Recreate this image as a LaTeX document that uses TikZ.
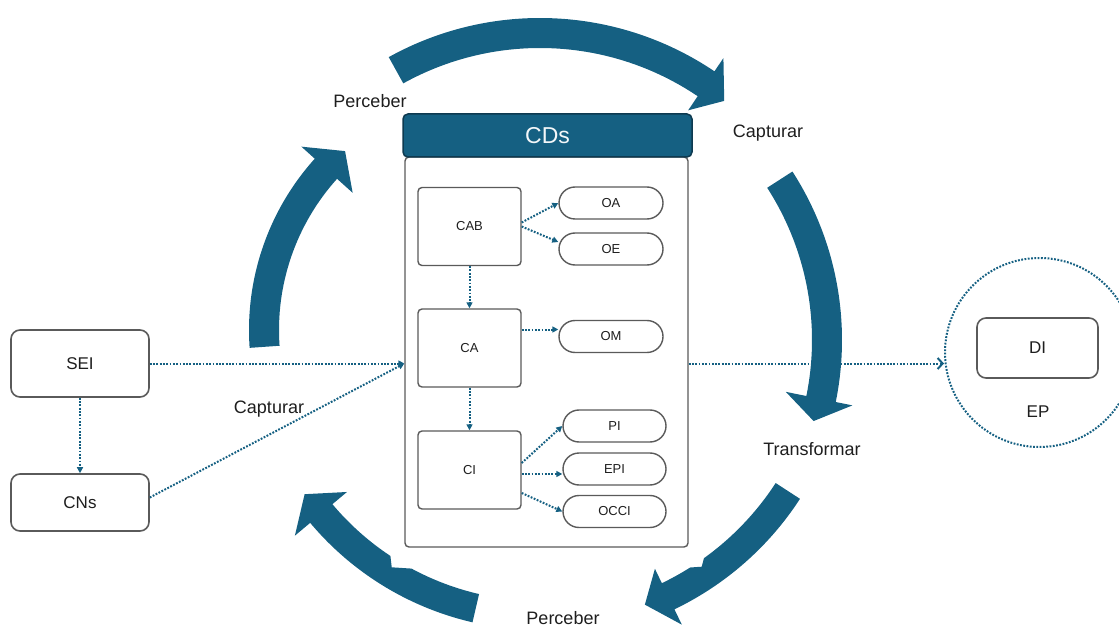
\documentclass[tikz,border=0pt]{standalone}
\usepackage{fontspec}
\setmainfont{Liberation Sans}
\usetikzlibrary{arrows.meta}
\definecolor{teal1}{HTML}{156082}
\definecolor{hdrline}{HTML}{0E3A50}
\definecolor{boxline}{HTML}{5A5A5A}
\definecolor{txt}{HTML}{1E1E1E}

\begin{document}
\begin{tikzpicture}[x=1pt,y=-1pt,
  bigarrow/.style={fill=teal1},
  link/.style={draw=teal1, line width=2pt, dash pattern=on 1.8pt off 1.5pt,
    -{Triangle[length=6pt,width=6pt]}},
  openlink/.style={draw=teal1, line width=2pt, dash pattern=on 1.8pt off 1.5pt,
    -{Straight Barb[length=5pt,width=11pt]}},
  outerbox/.style={draw=boxline, line width=1.6pt, rounded corners=9pt, fill=white,
    font=\fontsize{17}{20}\selectfont, text=txt, inner sep=0pt,
    minimum width=138pt},
  stepbox/.style={draw=boxline, line width=1.4pt, rounded corners=4pt, fill=white,
    font=\fontsize{13}{15}\selectfont, text=txt, minimum width=103pt,
    minimum height=78pt, inner sep=0pt},
  pillbox/.style={draw=boxline, line width=1.4pt, rounded corners=16pt, fill=white,
    font=\fontsize{13}{15}\selectfont, text=txt, minimum width=104pt,
    minimum height=32pt, inner sep=0pt},
  lbltext/.style={font=\fontsize{18}{21}\selectfont, text=txt, inner sep=0pt}
]
\useasboundingbox (0,0) rectangle (1119,628);
\clip (0,0) rectangle (1119,628);

% container with its heading
\node[draw=boxline, line width=1.4pt, rounded corners=4pt, minimum width=283pt,
  minimum height=390pt, inner sep=0pt, fill=white] (body) at (546.5,352) {};
\node[fill=teal1, draw=hdrline, line width=1.5pt, rounded corners=5pt,
  minimum width=289pt, minimum height=43pt, inner sep=0pt, text=white!95!teal1,
  font=\fontsize{23}{27}\selectfont] (cds) at (547.5,135.5) {CDs};

% inner blocks
\node[stepbox] (cab) at (469.5,226.5) {CAB};
\node[stepbox] (ca)  at (469.5,348)   {CA};
\node[stepbox] (ci)  at (469.5,470)   {CI};
\node[pillbox] (oa)   at (611,203)     {OA};
\node[pillbox] (oe)   at (611,249)     {OE};
\node[pillbox] (om)   at (611,336.5)   {OM};
\node[pillbox, minimum width=103pt] (pi)   at (614.5,426)   {PI};
\node[pillbox, minimum width=103pt] (epi)  at (614.5,469)   {EPI};
\node[pillbox, minimum width=103pt] (occi) at (614.5,511.5) {OCCI};

% sources on the left
\node[outerbox, minimum height=67pt] (sei) at (80,363.5) {SEI};
\node[outerbox, minimum height=57pt] (cns) at (80,502.5) {CNs};

% target on the right
\node[circle, draw=teal1, line width=2pt, dash pattern=on 1.8pt off 1.5pt,
  minimum size=189pt, inner sep=0pt] (ep) at (1039.5,352.5) {};
\node[outerbox, minimum width=121pt, minimum height=60pt] (di) at (1037.5,348) {DI};
\node[lbltext, font=\fontsize{17}{20}\selectfont] (eplbl) at (1038,412) {EP};

% connectors
\draw[link] (sei.east) -- (sei.east -| body.west);
\draw[link] (sei.south) -- (cns.north);
\draw[link] ([yshift=5pt]cns.east) -- (sei.east -| body.west);
\draw[openlink] (sei.east -| body.east) -- (sei.east -| ep.west);

\draw[link] ([yshift=4pt]cab.east) -- (oa.west);
\draw[link] (cab.east) -- ([yshift=7pt]oe.west);
\draw[link] (cab.south) -- (ca.north);
\coordinate (omin) at ([yshift=7pt]om.west);
\draw[link] (ca.east |- omin) -- (omin);
\draw[link] (ca.south) -- (ci.north);
\draw[link] ([yshift=7pt]ci.east) -- (pi.west);
\draw[link] ([yshift=-4pt]ci.east) -- ([yshift=-5pt]epi.west);
\draw[link] ([yshift=-23pt]ci.east) -- (occi.west);

% cycle of curved arrows
\begin{scope}[shift={(540,330)}]
  % top
  \fill[bigarrow] (-119:312) arc[start angle=-119, end angle=-56, radius=312]
    -- (-56:328) -- (-51.2:294) -- (-56:265) -- (-56:282)
    arc[start angle=-56, end angle=-119, radius=282] -- cycle;
  % lower right
  \fill[bigarrow] (33:310) arc[start angle=33, end angle=64.3, radius=310]
    -- (64.3:327) -- (69.1:294) -- (64.3:265) -- (64.3:281)
    arc[start angle=64.3, end angle=57.7, radius=281]
    -- (161.7,236.7) -- (54.3:281)
    arc[start angle=54.3, end angle=33, radius=281] -- cycle;
  % lower left
  \fill[bigarrow] (103:300) arc[start angle=103, end angle=140, radius=300]
    -- (140:320) -- (145.1:287) -- (140:252) -- (140:271)
    arc[start angle=140, end angle=123.5, radius=271]
    -- (-148.3,237.3) -- (118.3:271)
    arc[start angle=118.3, end angle=103, radius=271] -- cycle;
\end{scope}
\begin{scope}[shift={(531,340)}]
  % right
  \fill[bigarrow] (-32.8:311) arc[start angle=-32.8, end angle=11.5, radius=311]
    -- (11.5:328) -- (16:294) -- (11.5:260) -- (11.5:281)
    arc[start angle=11.5, end angle=-32.8, radius=281] -- cycle;
\end{scope}
\begin{scope}[shift={(505,330)}]
  % left
  \fill[bigarrow] (176:256) arc[start angle=176, end angle=222, radius=256]
    -- (222:274) -- (228.2:240) -- (222:205) -- (222:226)
    arc[start angle=222, end angle=176, radius=226] -- cycle;
\end{scope}

% step labels
\node[lbltext] (l1) at (370,101) {Perceber};
\node[lbltext] (l2) at (768,133) {Capturar};
\node[lbltext] (l3) at (812,449) {Transformar};
\node[lbltext] (l4) at (563,618) {Perceber};
\node[lbltext] (l5) at (269,409) {Capturar};
\end{tikzpicture}
\end{document}
